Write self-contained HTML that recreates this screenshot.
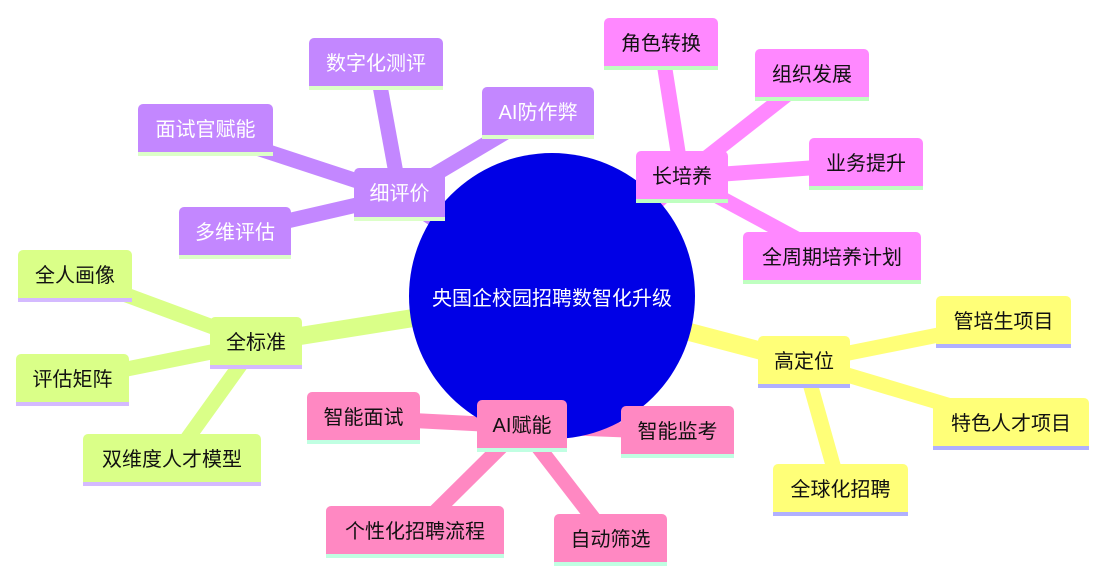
<!DOCTYPE html>
<html><head><meta charset="utf-8"><style>
body{margin:0;width:1097px;height:576px;background:#fff;position:relative;overflow:hidden;font-family:"Liberation Sans","Noto Sans CJK SC",sans-serif}
svg{position:absolute;left:0;top:0}
.n{position:absolute;box-sizing:border-box;border-radius:5px 5px 0 0;display:flex;align-items:center;justify-content:center;font-size:20px;padding-bottom:2px}
.p{background:#c387ff;color:#fff;border-bottom:4px solid #dcffc8}
.m{background:#ff88ff;color:#111;border-bottom:4px solid #bfffc0}
.y{background:#ffff78;color:#111;border-bottom:4px solid #b0b0ff}
.g{background:#daff88;color:#111;border-bottom:4px solid #d4baff}
.k{background:#ff88c2;color:#111;border-bottom:4px solid #c0ffe2}
.root{position:absolute;left:409px;top:153px;width:286px;height:286px;border-radius:50%;background:#0000e6;color:#fff;display:flex;align-items:center;justify-content:center;font-size:20px}
</style></head><body>
<svg width="1097" height="576">
<g stroke-linecap="butt" fill="none">
<g stroke="#c387ff" stroke-width="15">
<line x1="552" y1="296" x2="400" y2="195" stroke-width="18"/>
<line x1="400" y1="195" x2="376" y2="64"/>
<line x1="400" y1="195" x2="538" y2="113"/>
<line x1="400" y1="195" x2="205" y2="131"/>
<line x1="400" y1="195" x2="235" y2="233"/>
</g>
<g stroke="#ff88ff" stroke-width="15">
<line x1="552" y1="296" x2="682" y2="177" stroke-width="18"/>
<line x1="682" y1="177" x2="661" y2="44"/>
<line x1="682" y1="177" x2="812" y2="75"/>
<line x1="682" y1="177" x2="866" y2="164"/>
<line x1="682" y1="177" x2="832" y2="258"/>
</g>
<g stroke="#ffff78" stroke-width="15">
<line x1="552" y1="296" x2="804" y2="362" stroke-width="18"/>
<line x1="804" y1="362" x2="1003" y2="322"/>
<line x1="804" y1="362" x2="1011" y2="424"/>
<line x1="804" y1="362" x2="840" y2="490"/>
</g>
<g stroke="#daff88" stroke-width="15">
<line x1="552" y1="296" x2="256" y2="343" stroke-width="18"/>
<line x1="256" y1="343" x2="75" y2="276"/>
<line x1="256" y1="343" x2="72" y2="380"/>
<line x1="256" y1="343" x2="172" y2="460"/>
</g>
<g stroke="#ff88c2" stroke-width="15">
<line x1="552" y1="296" x2="522" y2="426" stroke-width="18"/>
<line x1="522" y1="426" x2="363" y2="418"/>
<line x1="522" y1="426" x2="678" y2="432"/>
<line x1="522" y1="426" x2="415" y2="532"/>
<line x1="522" y1="426" x2="610" y2="540"/>
</g>
</g>
</svg>
<div class="root">央国企校园招聘数智化升级</div>
<div class="n p" style="left:309px;top:38px;width:134px;height:52px">数字化测评</div>
<div class="n p" style="left:482px;top:87px;width:112px;height:52px">AI防作弊</div>
<div class="n p" style="left:138px;top:104px;width:135px;height:52px">面试官赋能</div>
<div class="n p" style="left:354px;top:168px;width:91px;height:53px">细评价</div>
<div class="n p" style="left:179px;top:207px;width:112px;height:52px">多维评估</div>
<div class="n m" style="left:604px;top:18px;width:114px;height:52px">角色转换</div>
<div class="n m" style="left:755px;top:49px;width:114px;height:52px">组织发展</div>
<div class="n m" style="left:636px;top:151px;width:92px;height:52px">长培养</div>
<div class="n m" style="left:809px;top:138px;width:114px;height:52px">业务提升</div>
<div class="n m" style="left:743px;top:232px;width:178px;height:52px">全周期培养计划</div>
<div class="n y" style="left:936px;top:296px;width:135px;height:52px">管培生项目</div>
<div class="n y" style="left:758px;top:336px;width:92px;height:52px">高定位</div>
<div class="n y" style="left:933px;top:398px;width:156px;height:52px">特色人才项目</div>
<div class="n y" style="left:773px;top:464px;width:135px;height:52px">全球化招聘</div>
<div class="n g" style="left:18px;top:250px;width:114px;height:52px">全人画像</div>
<div class="n g" style="left:210px;top:317px;width:92px;height:52px">全标准</div>
<div class="n g" style="left:16px;top:354px;width:113px;height:52px">评估矩阵</div>
<div class="n g" style="left:83px;top:434px;width:178px;height:52px">双维度人才模型</div>
<div class="n k" style="left:307px;top:392px;width:113px;height:52px">智能面试</div>
<div class="n k" style="left:477px;top:400px;width:90px;height:52px">AI赋能</div>
<div class="n k" style="left:621px;top:406px;width:113px;height:52px">智能监考</div>
<div class="n k" style="left:326px;top:506px;width:178px;height:52px">个性化招聘流程</div>
<div class="n k" style="left:554px;top:514px;width:113px;height:52px">自动筛选</div>
</body></html>
